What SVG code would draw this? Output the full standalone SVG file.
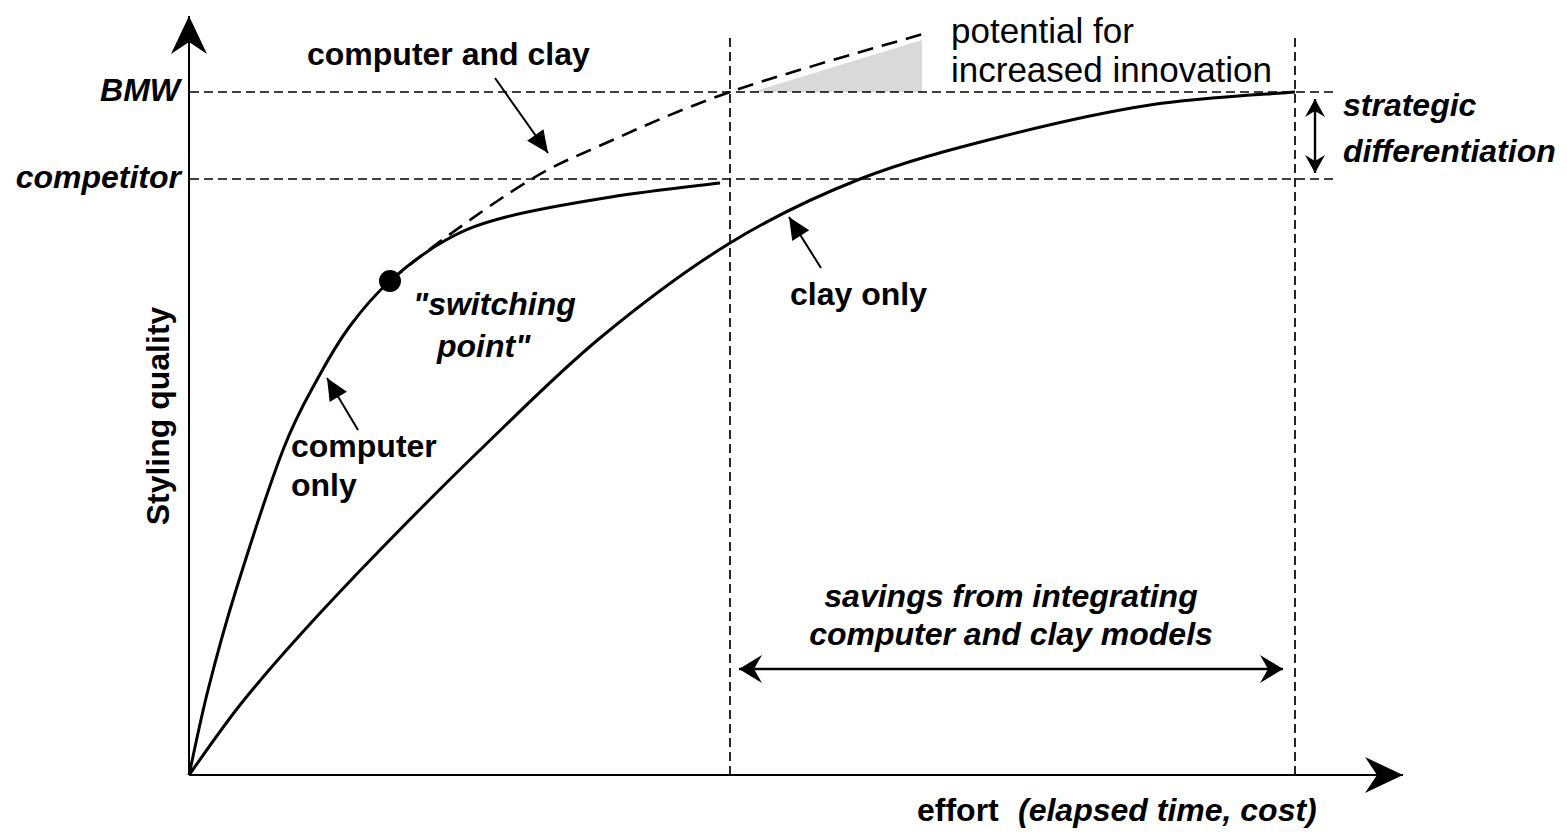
<svg xmlns="http://www.w3.org/2000/svg" width="1567" height="832" viewBox="0 0 1567 832">
  <defs>
    <style>
      text { font-family: "Liberation Sans", Arial, Helvetica, sans-serif; font-size: 32px; font-weight: bold; fill: #000; }
      .it { font-style: italic; }
      .reg { font-weight: normal; font-size: 35px; }
      .axis { fill: none; stroke: #000; stroke-width: 2; }
      .guide { fill: none; stroke: #000; stroke-width: 1.7; stroke-dasharray: 9 5; }
      .curve { fill: none; stroke: #000; stroke-width: 3; }
      .dcurve { fill: none; stroke: #000; stroke-width: 2.6; stroke-dasharray: 16 9; }
      .lead { fill: none; stroke: #000; stroke-width: 2; }
      .span { fill: none; stroke: #000; stroke-width: 2.4; }
    </style>
    <!-- large barbed head for the axes -->
    <marker id="axisHead" markerUnits="userSpaceOnUse" viewBox="-40 -20 42 40" refX="0" refY="0" markerWidth="42" markerHeight="40" orient="auto">
      <path d="M0,0 L-38,-18 L-26,0 L-38,18 Z" fill="#000"/>
    </marker>
    <!-- medium barbed head for the savings span -->
    <marker id="spanHead" markerUnits="userSpaceOnUse" viewBox="-25 -15 27 30" refX="0" refY="0" markerWidth="27" markerHeight="30" orient="auto-start-reverse">
      <path d="M0,0 L-23,-14 L-15,0 L-23,14 Z" fill="#000"/>
    </marker>
    <!-- small barbed head for the differentiation span -->
    <marker id="smallHead" markerUnits="userSpaceOnUse" viewBox="-20 -11 22 22" refX="0" refY="0" markerWidth="22" markerHeight="22" orient="auto-start-reverse">
      <path d="M0,0 L-18,-10 L-12,0 L-18,10 Z" fill="#000"/>
    </marker>
    <!-- plain triangle for label leaders -->
    <marker id="leadHead" markerUnits="userSpaceOnUse" viewBox="-24 -12 26 24" refX="0" refY="0" markerWidth="26" markerHeight="24" orient="auto">
      <path d="M0,0 L-22,-10 L-22,10 Z" fill="#000"/>
    </marker>
  </defs>

  <!-- shaded wedge above the BMW level -->
  <g id="innovation-wedge">
    <path d="M752,92 L922,40 L922,92 Z" fill="#d9d9d9"/>
  </g>

  <!-- reference levels and effort markers -->
  <g id="guides">
    <path class="guide" d="M190,92 H1338"/>
    <path class="guide" d="M190,179 H1338"/>
    <path class="guide" d="M730,38 V775"/>
    <path class="guide" d="M1295,38 V775"/>
  </g>

  <!-- axes -->
  <g id="axes">
    <path class="axis" d="M189,775 V16" marker-end="url(#axisHead)"/>
    <path class="axis" d="M189,775 H1403" marker-end="url(#axisHead)"/>
  </g>

  <!-- quality curves -->
  <g id="curve-clay">
    <path class="curve" d="M189,775 C197.5,763.3 221.5,728.3 240,705 C258.5,681.7 276.7,660.8 300,635 C323.3,609.2 350,580.8 380,550 C410,519.2 443.3,485.3 480,450 C516.7,414.7 558.3,372.5 600,338 C641.7,303.5 686.7,269.5 730,243 C773.3,216.5 815,196.7 860,179 C905,161.3 951.7,149.3 1000,137 C1048.3,124.7 1100.8,112.5 1150,105 C1199.2,97.5 1270.8,94.2 1295,92"/>
  </g>
  <g id="curve-computer">
    <path class="curve" d="M189,775 C192.2,760.8 200.2,720.8 208,690 C215.8,659.2 223.5,630 236,590 C248.5,550 269.3,485.3 283,450 C296.7,414.7 306.8,398.7 318,378 C329.2,357.3 338,342.2 350,326 C362,309.8 374,295.3 390,281 C406,266.7 426.7,250.7 446,240 C465.3,229.3 478.5,224.2 506,217 C533.5,209.8 575.3,202.7 611,197 C646.7,191.3 701.8,185.3 720,183"/>
  </g>
  <g id="curve-combined">
    <path class="dcurve" d="M390,281 C400,272.5 425.7,251.8 449,235 C472.3,218.2 505.3,194.7 530,180 C554.7,165.3 563.7,161.7 597,147 C630.3,132.3 675.2,111 730,92 C784.8,73 893.3,42.8 926,33"/>
  </g>
  <g id="switching-point">
    <circle cx="390" cy="281" r="11" fill="#000"/>
  </g>

  <!-- leaders and spans -->
  <g id="connectors">
    <path class="lead" d="M495,78 L548,153" marker-end="url(#leadHead)"/>
    <path class="lead" d="M821,268 L789,217" marker-end="url(#leadHead)"/>
    <path class="lead" d="M358,430 L327,378" marker-end="url(#leadHead)"/>
    <path class="span" d="M739,669 H1283" marker-start="url(#spanHead)" marker-end="url(#spanHead)"/>
    <path class="span" d="M1315,99 V173" marker-start="url(#smallHead)" marker-end="url(#smallHead)"/>
  </g>

  <!-- labels -->
  <g id="label-bmw"><text class="it" x="180" y="101" text-anchor="end">BMW</text></g>
  <g id="label-competitor"><text class="it" x="181" y="188" text-anchor="end">competitor</text></g>
  <g id="label-combined"><text x="307" y="65">computer and clay</text></g>
  <g id="label-potential">
    <text class="reg" x="951" y="43">potential for</text>
    <text class="reg" x="951" y="82">increased innovation</text>
  </g>
  <g id="label-differentiation">
    <text class="it" x="1343" y="116">strategic</text>
    <text class="it" x="1343" y="162">differentiation</text>
  </g>
  <g id="label-switching">
    <text class="it" x="413" y="315">"switching</text>
    <text class="it" x="437" y="357">point"</text>
  </g>
  <g id="label-computer">
    <text x="291" y="457">computer</text>
    <text x="291" y="496">only</text>
  </g>
  <g id="label-clay"><text x="790" y="305">clay only</text></g>
  <g id="label-savings">
    <text class="it" x="1011" y="607" text-anchor="middle">savings from integrating</text>
    <text class="it" x="1011" y="645" text-anchor="middle">computer and clay models</text>
  </g>
  <g id="label-x">
    <text x="917" y="821">effort</text>
    <text class="it" x="1018" y="821">(elapsed time, cost)</text>
  </g>
  <g id="label-y">
    <text transform="translate(169,416) rotate(-90)" text-anchor="middle">Styling quality</text>
  </g>
</svg>
